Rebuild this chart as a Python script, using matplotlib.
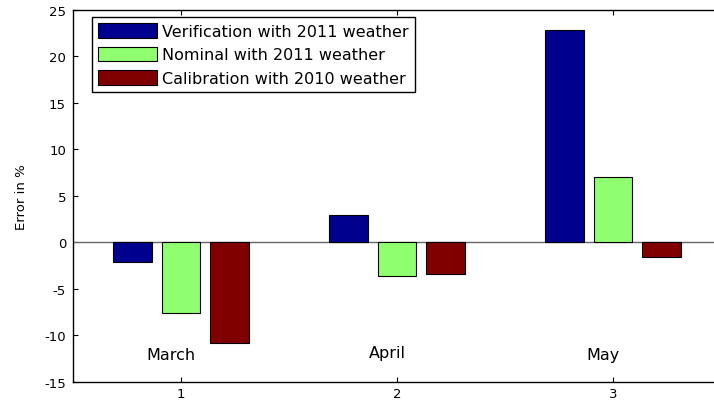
import matplotlib
matplotlib.use("Agg")
import matplotlib.pyplot as plt
import numpy as np

months = ["March", "April", "May"]
positions = [1, 2, 3]
series_labels = ["Verification with 2011 weather",
                 "Nominal with 2011 weather",
                 "Calibration with 2010 weather"]
verification = [-2.1, 2.9, 22.85]
nominal = [-7.6, -3.6, 7.0]
calibration = [-10.85, -3.4, -1.6]
colors = ["#00008f", "#8fff70", "#800000"]
yticks = [-15, -10, -5, 0, 5, 10, 15, 20, 25]

plt.rcParams['font.family'] = ['DejaVu Sans']
plt.rcParams['axes.unicode_minus'] = False

fig = plt.figure(figsize=(7.14, 4.02), dpi=100)
ax = fig.add_axes([73/714, (402-382.7)/402, (721-73)/714, (382.7-11)/402])

x = np.array(positions, dtype=float)
offset = 0.225
width = 0.18
for i, (vals, lab, col) in enumerate(zip([verification, nominal, calibration], series_labels, colors)):
    ax.bar(x + (i-1)*offset, vals, width=width, color=col, edgecolor='black',
           linewidth=0.8, label=lab, zorder=3)

ax.axhline(0, color='#666666', linewidth=1.0, zorder=2)

ax.set_xlim(0.5, 3.5)
ax.set_ylim(-15, 25)
ax.set_xticks(positions)
ax.set_yticks(yticks)
ax.tick_params(direction='in', length=3.5, width=0.8, top=True, right=True,
               labelsize=9.5, pad=5)
ax.tick_params(axis='x', pad=4)
for s in ax.spines.values():
    s.set_linewidth(1.0)

ax.set_ylabel("Error in %", fontsize=9.5)
ax.yaxis.set_label_coords(-0.069, 0.5)

label_y = [-12.55, -12.3, -12.55]
for xp, m, ly in zip(positions, months, label_y):
    ax.text(xp - 0.045, ly, m, ha='center', va='baseline', fontsize=11.5)

leg = ax.legend(loc='upper left', bbox_to_anchor=(0.0289, 0.9803), borderaxespad=0,
                fontsize=11.5, handlelength=3.7, handleheight=1.0, labelspacing=0.49,
                handletextpad=0.35, borderpad=0.38, fancybox=False, frameon=True,
                framealpha=1)
leg.get_frame().set_edgecolor('black')
leg.get_frame().set_linewidth(1.0)

fig.savefig("out.png", dpi=100)
